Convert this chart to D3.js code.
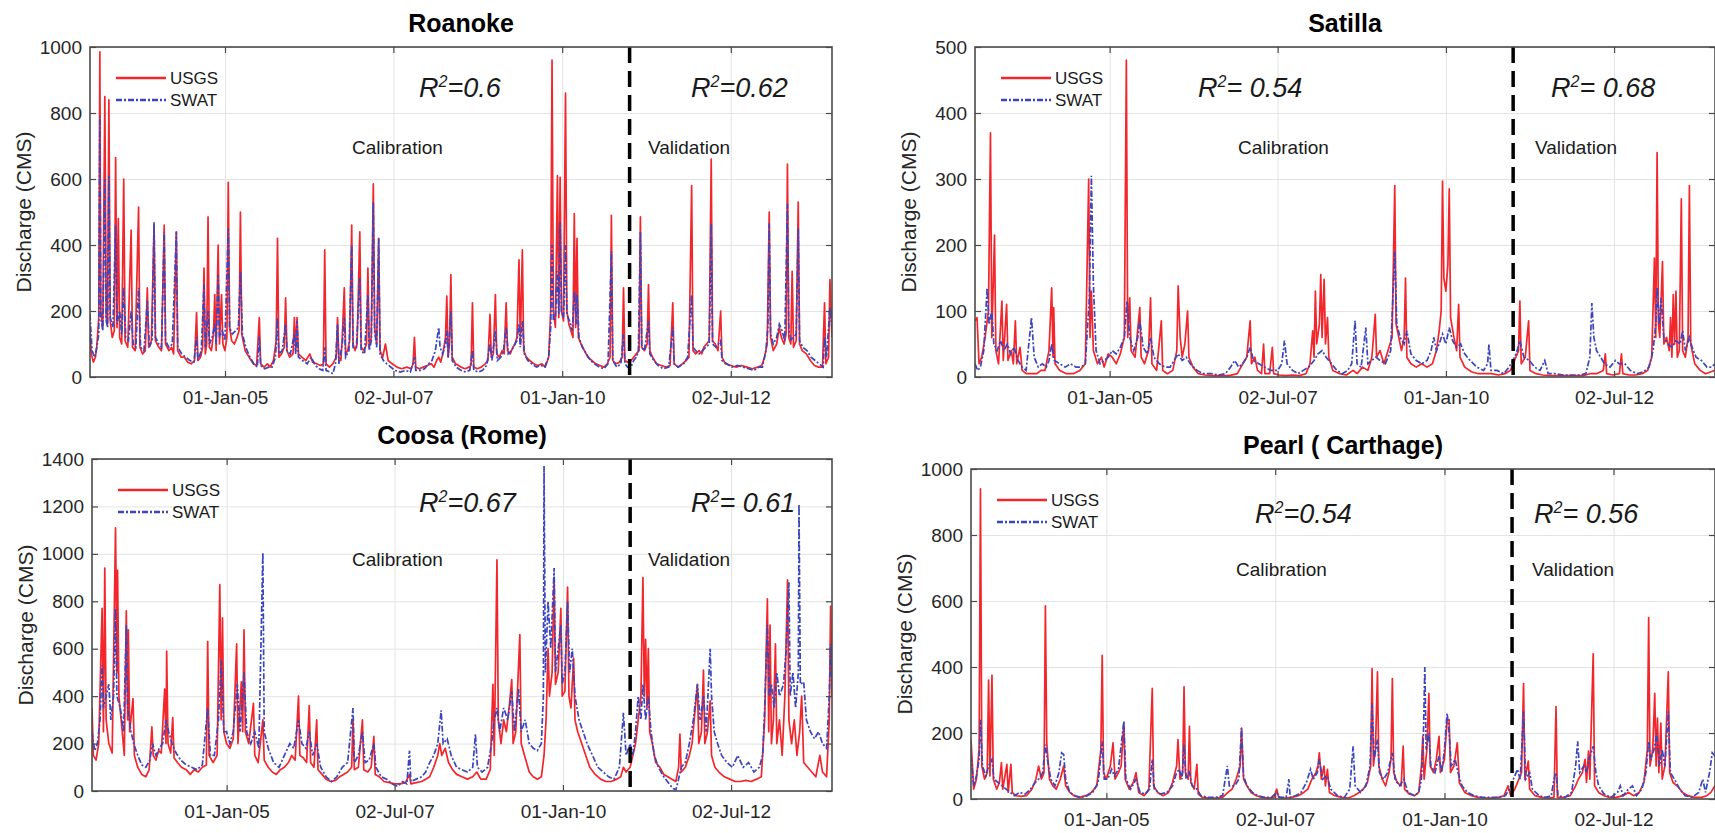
<!DOCTYPE html>
<html><head><meta charset="utf-8">
<script src="https://cdn.jsdelivr.net/npm/d3@7"></script>
<style>html,body{margin:0;padding:0;background:#fff;} svg{display:block;font-family:"Liberation Sans",Arial,Helvetica,sans-serif;}</style>
</head><body><svg id="chart" width="1715" height="833"></svg>
<script>
// ---------------- DATA (decimal year, discharge CMS) ----------------
const xTickDates = ["2005-01-01", "2007-07-02", "2010-01-01", "2012-07-02"];
const splitDate = "2011-01-01";
const seriesNames = ["USGS", "SWAT"];
const panelTitles = ["Roanoke", "Satilla", "Coosa (Rome)", "Pearl ( Carthage)"];
const roanokeTicks = [0, 200, 400, 600, 800, 1000];
const satillaTicks = [0, 100, 200, 300, 400, 500];
const coosaTicks = [0, 200, 400, 600, 800, 1000, 1200, 1400];
const pearlTicks = [0, 200, 400, 600, 800, 1000];
const r2Cal = ["=0.6", "= 0.54", "=0.67", "=0.54"];
const r2Val = ["=0.62", "= 0.68", "= 0.61", "= 0.56"];

const roanokeUSGS = [[2003.00,140],[2003.02,70],[2003.05,45],[2003.08,60],[2003.10,90],[2003.13,180],[2003.146,985],[2003.16,200],[2003.19,150],[2003.22,850],[2003.24,180],[2003.26,160],[2003.28,840],[2003.30,170],[2003.33,120],[2003.36,140],[2003.38,665],[2003.40,150],[2003.42,480],[2003.44,120],[2003.47,100],[2003.50,600],[2003.52,110],[2003.56,90],[2003.61,445],[2003.63,90],[2003.67,80],[2003.72,515],[2003.74,90],[2003.78,70],[2003.82,80],[2003.85,270],[2003.87,90],[2003.91,110],[2003.95,460],[2003.97,110],
[2004.02,90],[2004.06,80],[2004.10,460],[2004.12,100],[2004.17,80],[2004.21,90],[2004.24,70],[2004.28,440],[2004.30,80],[2004.35,60],[2004.40,60],[2004.45,45],[2004.50,40],[2004.55,50],[2004.58,195],[2004.60,50],[2004.64,60],[2004.67,90],[2004.69,330],[2004.71,70],[2004.73,100],[2004.75,485],[2004.77,90],[2004.80,80],[2004.83,130],[2004.85,250],[2004.87,80],[2004.90,400],[2004.92,100],[2004.95,250],[2004.97,100],
[2005.00,80],[2005.03,120],[2005.05,590],[2005.07,150],[2005.10,110],[2005.14,100],[2005.18,120],[2005.21,140],[2005.23,500],[2005.25,130],[2005.30,80],[2005.36,60],[2005.42,40],[2005.47,35],[2005.51,180],[2005.53,40],[2005.58,30],[2005.63,40],[2005.67,30],[2005.72,50],[2005.76,110],[2005.78,420],[2005.80,60],[2005.84,70],[2005.88,90],[2005.90,240],[2005.92,80],[2005.96,60],
[2006.01,70],[2006.03,180],[2006.05,80],[2006.07,180],[2006.09,70],[2006.14,60],[2006.20,50],[2006.26,70],[2006.30,45],[2006.36,40],[2006.42,35],[2006.46,40],[2006.48,385],[2006.50,40],[2006.55,30],[2006.60,40],[2006.65,60],[2006.67,180],[2006.69,50],[2006.72,50],[2006.74,120],[2006.77,270],[2006.79,70],[2006.82,80],[2006.85,110],[2006.88,460],[2006.90,100],[2006.93,80],[2006.96,100],
[2007.00,440],[2007.02,90],[2007.06,80],[2007.10,100],[2007.12,330],[2007.14,90],[2007.17,120],[2007.20,585],[2007.22,150],[2007.25,100],[2007.28,420],[2007.30,80],[2007.34,60],[2007.38,100],[2007.42,50],[2007.48,40],[2007.55,30],[2007.62,25],[2007.70,30],[2007.76,25],[2007.79,40],[2007.81,120],[2007.83,30],[2007.88,25],[2007.94,30],
[2008.00,35],[2008.06,40],[2008.10,30],[2008.14,50],[2008.17,60],[2008.20,45],[2008.24,80],[2008.27,120],[2008.29,245],[2008.31,60],[2008.33,100],[2008.35,310],[2008.37,60],[2008.42,40],[2008.50,30],[2008.56,25],[2008.62,30],[2008.65,35],[2008.67,225],[2008.69,30],[2008.74,25],[2008.80,30],[2008.86,40],[2008.90,50],[2008.93,190],[2008.95,60],[2008.98,70],
[2009.01,250],[2009.03,70],[2009.07,60],[2009.11,80],[2009.14,70],[2009.17,225],[2009.19,80],[2009.23,70],[2009.27,90],[2009.30,100],[2009.33,120],[2009.36,355],[2009.38,100],[2009.41,385],[2009.43,80],[2009.47,60],[2009.52,50],[2009.58,40],[2009.64,35],[2009.70,40],[2009.75,30],[2009.80,60],[2009.83,200],[2009.85,960],[2009.87,200],[2009.90,150],[2009.93,610],[2009.95,180],[2009.97,605],[2009.99,200],
[2010.02,170],[2010.05,860],[2010.07,200],[2010.10,160],[2010.13,140],[2010.16,120],[2010.18,495],[2010.20,150],[2010.22,420],[2010.24,120],[2010.28,100],[2010.33,80],[2010.38,60],[2010.44,50],[2010.50,40],[2010.56,35],[2010.62,30],[2010.67,40],[2010.71,60],[2010.73,490],[2010.75,50],[2010.80,40],[2010.85,45],[2010.89,60],[2010.91,270],[2010.93,50],[2010.97,45],
[2011.02,50],[2011.06,60],[2011.10,70],[2011.14,80],[2011.16,485],[2011.18,90],[2011.22,80],[2011.26,100],[2011.28,280],[2011.30,80],[2011.34,60],[2011.40,40],[2011.47,35],[2011.54,30],[2011.60,35],[2011.64,225],[2011.66,40],[2011.72,30],[2011.78,40],[2011.84,50],[2011.88,60],[2011.92,580],[2011.94,80],[2011.98,70],
[2012.03,80],[2012.07,70],[2012.10,90],[2012.14,100],[2012.18,110],[2012.21,660],[2012.23,110],[2012.27,100],[2012.31,80],[2012.35,200],[2012.37,60],[2012.42,40],[2012.50,35],[2012.58,30],[2012.66,35],[2012.74,30],[2012.82,25],[2012.90,30],[2012.96,35],
[2013.00,60],[2013.04,100],[2013.07,500],[2013.09,120],[2013.13,80],[2013.18,100],[2013.22,150],[2013.25,120],[2013.29,100],[2013.32,130],[2013.34,645],[2013.36,120],[2013.39,100],[2013.41,320],[2013.43,90],[2013.47,110],[2013.50,530],[2013.52,100],[2013.56,80],[2013.62,70],[2013.68,50],[2013.74,35],[2013.80,30],[2013.86,30],[2013.89,225],[2013.91,40],[2013.95,60],[2013.97,295],[2014.00,120]];

const roanokeSWAT = [[2003.00,190],[2003.03,80],[2003.07,60],[2003.10,90],[2003.13,130],[2003.146,790],[2003.16,180],[2003.19,140],[2003.22,600],[2003.24,170],[2003.26,150],[2003.28,610],[2003.30,180],[2003.34,150],[2003.38,460],[2003.40,160],[2003.44,200],[2003.47,130],[2003.50,270],[2003.53,120],[2003.57,110],[2003.61,200],[2003.64,100],[2003.68,90],[2003.72,270],[2003.75,90],[2003.80,80],[2003.85,230],[2003.88,90],[2003.92,110],[2003.95,470],[2003.97,120],
[2004.02,100],[2004.06,90],[2004.10,440],[2004.12,110],[2004.17,90],[2004.22,100],[2004.28,440],[2004.30,90],[2004.36,70],[2004.42,60],[2004.48,50],[2004.54,45],[2004.58,120],[2004.60,50],[2004.65,80],[2004.69,280],[2004.71,90],[2004.75,200],[2004.77,100],[2004.81,120],[2004.85,160],[2004.87,100],[2004.90,310],[2004.92,120],[2004.96,140],
[2005.00,110],[2005.05,450],[2005.07,150],[2005.11,130],[2005.16,140],[2005.20,150],[2005.23,320],[2005.26,130],[2005.31,90],[2005.37,60],[2005.43,40],[2005.48,30],[2005.51,120],[2005.53,35],[2005.59,25],[2005.65,30],[2005.70,30],[2005.75,60],[2005.78,180],[2005.80,70],[2005.85,80],[2005.90,160],[2005.92,80],[2005.97,70],
[2006.03,130],[2006.05,70],[2006.07,170],[2006.09,60],[2006.15,50],[2006.22,40],[2006.28,60],[2006.34,35],[2006.40,25],[2006.45,20],[2006.48,90],[2006.50,20],[2006.56,15],[2006.60,10],[2006.64,40],[2006.67,160],[2006.69,40],[2006.74,100],[2006.77,180],[2006.79,60],[2006.84,80],[2006.88,400],[2006.90,90],[2006.95,90],
[2007.00,300],[2007.02,80],[2007.07,70],[2007.12,250],[2007.14,80],[2007.17,110],[2007.20,530],[2007.22,140],[2007.25,90],[2007.28,420],[2007.30,70],[2007.35,50],[2007.40,40],[2007.46,30],[2007.52,20],[2007.60,15],[2007.68,20],[2007.75,15],[2007.81,60],[2007.83,20],[2007.90,20],[2007.96,25],
[2008.02,40],[2008.07,50],[2008.12,80],[2008.17,150],[2008.19,90],[2008.23,70],[2008.27,100],[2008.29,140],[2008.31,60],[2008.35,200],[2008.37,50],[2008.43,30],[2008.50,20],[2008.57,15],[2008.63,20],[2008.67,80],[2008.69,20],[2008.76,15],[2008.82,20],[2008.88,35],[2008.93,100],[2008.96,50],
[2009.01,140],[2009.04,50],[2009.09,60],[2009.13,80],[2009.17,150],[2009.20,70],[2009.25,80],[2009.30,100],[2009.33,110],[2009.36,160],[2009.38,90],[2009.41,170],[2009.44,70],[2009.49,50],[2009.55,40],[2009.62,30],[2009.68,35],[2009.74,30],[2009.80,60],[2009.83,150],[2009.85,400],[2009.87,170],[2009.90,180],[2009.93,320],[2009.95,190],[2009.97,470],[2009.99,200],
[2010.02,180],[2010.05,400],[2010.07,190],[2010.11,170],[2010.15,140],[2010.18,260],[2010.21,160],[2010.22,250],[2010.25,120],[2010.30,90],[2010.36,70],[2010.42,50],[2010.48,40],[2010.55,30],[2010.62,25],[2010.68,40],[2010.73,380],[2010.75,50],[2010.81,30],[2010.87,40],[2010.91,130],[2010.93,40],[2010.97,30],
[2011.02,30],[2011.06,50],[2011.10,60],[2011.13,80],[2011.16,440],[2011.18,90],[2011.22,80],[2011.28,170],[2011.30,70],[2011.36,50],[2011.42,35],[2011.50,25],[2011.58,30],[2011.64,150],[2011.66,40],[2011.72,30],[2011.80,40],[2011.86,60],[2011.92,250],[2011.94,90],[2011.98,80],
[2012.03,70],[2012.08,80],[2012.13,90],[2012.18,100],[2012.21,465],[2012.23,100],[2012.28,90],[2012.35,110],[2012.37,50],[2012.44,40],[2012.52,30],[2012.60,35],[2012.68,30],[2012.76,25],[2012.84,20],[2012.92,30],[2012.97,30],
[2013.02,80],[2013.05,150],[2013.07,465],[2013.09,130],[2013.13,100],[2013.18,120],[2013.22,160],[2013.26,140],[2013.30,110],[2013.34,525],[2013.36,140],[2013.40,110],[2013.43,120],[2013.47,130],[2013.50,450],[2013.52,110],[2013.57,90],[2013.63,80],[2013.69,60],[2013.75,50],[2013.81,40],[2013.87,30],[2013.89,120],[2013.92,60],[2013.97,210],[2014.00,150]];

const satillaUSGS = [[2003.00,85],[2003.03,90],[2003.06,20],[2003.10,30],[2003.15,60],[2003.20,100],[2003.23,370],[2003.25,60],[2003.29,215],[2003.31,40],[2003.35,20],[2003.40,115],[2003.42,25],[2003.47,110],[2003.49,25],[2003.54,40],[2003.57,20],[2003.60,85],[2003.62,20],[2003.67,45],[2003.70,10],[2003.76,5],[2003.84,5],[2003.92,5],[2003.98,10],
[2004.04,10],[2004.10,40],[2004.14,135],[2004.16,30],[2004.17,105],[2004.19,20],[2004.26,10],[2004.36,5],[2004.46,5],[2004.56,10],[2004.64,20],[2004.69,300],[2004.71,60],[2004.73,130],[2004.76,40],[2004.82,20],[2004.88,30],[2004.92,15],[2004.98,35],
[2005.04,30],[2005.10,20],[2005.16,35],[2005.22,60],[2005.25,480],[2005.27,60],[2005.30,120],[2005.32,40],[2005.38,30],[2005.45,105],[2005.47,30],[2005.52,20],[2005.58,40],[2005.61,120],[2005.63,20],[2005.70,10],[2005.77,85],[2005.79,10],[2005.86,5],[2005.94,10],
[2006.00,40],[2006.02,138],[2006.05,60],[2006.08,30],[2006.12,50],[2006.16,100],[2006.18,30],[2006.24,15],[2006.32,5],[2006.42,3],[2006.54,2],[2006.66,2],[2006.78,2],[2006.90,5],[2006.98,20],
[2007.04,30],[2007.09,85],[2007.11,20],[2007.16,30],[2007.20,10],[2007.26,5],[2007.29,50],[2007.31,5],[2007.38,5],[2007.42,45],[2007.44,5],[2007.52,3],[2007.62,2],[2007.72,3],[2007.82,2],[2007.92,5],[2007.98,20],
[2008.02,70],[2008.04,30],[2008.06,130],[2008.08,50],[2008.12,80],[2008.14,155],[2008.16,60],[2008.19,148],[2008.21,50],[2008.24,90],[2008.26,30],[2008.32,10],[2008.42,5],[2008.52,3],[2008.62,10],[2008.68,5],[2008.76,15],[2008.84,10],[2008.90,30],[2008.95,95],[2008.97,30],
[2009.02,40],[2009.08,20],[2009.14,40],[2009.20,60],[2009.24,290],[2009.26,80],[2009.30,60],[2009.34,40],[2009.38,60],[2009.40,150],[2009.42,30],[2009.48,20],[2009.56,15],[2009.64,20],[2009.72,15],[2009.80,20],[2009.86,40],[2009.90,70],[2009.93,100],[2009.95,297],[2009.97,150],[2010.00,130],[2010.03,170],[2010.05,285],[2010.07,90],
[2010.12,60],[2010.16,40],[2010.19,110],[2010.21,30],[2010.28,15],[2010.38,8],[2010.48,5],[2010.58,5],[2010.68,5],[2010.78,3],[2010.88,5],[2010.96,10],
[2011.04,30],[2011.08,40],[2011.10,115],[2011.12,20],[2011.18,30],[2011.23,85],[2011.25,10],[2011.34,5],[2011.44,3],[2011.56,2],[2011.68,2],[2011.80,2],[2011.92,2],[2012.04,2],[2012.14,5],[2012.24,5],[2012.34,10],[2012.37,35],[2012.39,5],[2012.48,3],[2012.58,5],[2012.61,35],[2012.63,5],[2012.72,3],[2012.82,3],[2012.92,5],
[2013.00,10],[2013.06,30],[2013.10,180],[2013.12,60],[2013.14,340],[2013.16,80],[2013.18,60],[2013.22,175],[2013.24,50],[2013.28,60],[2013.32,40],[2013.34,90],[2013.36,30],[2013.38,125],[2013.40,50],[2013.42,130],[2013.44,30],[2013.47,40],[2013.50,270],[2013.52,40],[2013.56,30],[2013.60,60],[2013.62,290],[2013.64,50],[2013.70,20],[2013.78,10],[2013.86,5],[2013.94,8],[2014.00,10]];

const satillaSWAT = [[2003.00,20],[2003.04,10],[2003.08,15],[2003.13,40],[2003.18,135],[2003.21,80],[2003.25,100],[2003.28,50],[2003.33,40],[2003.38,55],[2003.43,40],[2003.48,50],[2003.53,35],[2003.58,45],[2003.64,25],[2003.70,15],[2003.76,10],[2003.84,90],[2003.88,30],[2003.94,15],
[2004.00,20],[2004.06,15],[2004.10,25],[2004.14,50],[2004.18,25],[2004.26,20],[2004.34,15],[2004.42,20],[2004.50,15],[2004.58,15],[2004.64,20],[2004.70,120],[2004.73,305],[2004.76,140],[2004.80,40],[2004.86,20],[2004.92,25],[2004.98,30],
[2005.04,40],[2005.10,35],[2005.16,45],[2005.22,60],[2005.26,115],[2005.30,60],[2005.36,40],[2005.42,60],[2005.45,85],[2005.50,45],[2005.56,35],[2005.61,60],[2005.66,30],[2005.74,20],[2005.82,15],[2005.90,15],[2005.96,25],
[2006.02,35],[2006.08,25],[2006.14,30],[2006.20,20],[2006.30,10],[2006.40,5],[2006.52,5],[2006.62,3],[2006.72,5],[2006.80,15],[2006.86,25],[2006.92,15],[2006.98,20],
[2007.04,30],[2007.09,45],[2007.14,25],[2007.22,20],[2007.30,15],[2007.40,10],[2007.50,10],[2007.56,20],[2007.60,55],[2007.64,20],[2007.72,10],[2007.80,5],[2007.88,10],[2007.96,15],
[2008.04,25],[2008.10,35],[2008.16,40],[2008.22,30],[2008.30,20],[2008.38,10],[2008.46,5],[2008.54,10],[2008.60,20],[2008.65,85],[2008.68,20],[2008.74,15],[2008.81,75],[2008.84,20],[2008.90,25],[2008.96,30],
[2009.02,25],[2009.10,20],[2009.18,40],[2009.24,190],[2009.27,80],[2009.32,60],[2009.38,50],[2009.42,70],[2009.48,35],[2009.56,25],[2009.64,20],[2009.72,25],[2009.78,40],[2009.82,60],[2009.86,40],[2009.90,50],[2009.95,65],[2010.00,50],[2010.05,75],[2010.10,55],
[2010.16,45],[2010.22,50],[2010.28,35],[2010.36,25],[2010.46,15],[2010.56,10],[2010.62,20],[2010.64,50],[2010.67,10],[2010.76,10],[2010.86,5],[2010.94,15],
[2011.02,30],[2011.06,40],[2011.10,55],[2011.16,30],[2011.24,25],[2011.32,15],[2011.40,10],[2011.47,25],[2011.52,5],[2011.62,5],[2011.74,3],[2011.86,3],[2011.98,3],[2012.08,5],[2012.14,30],[2012.17,112],[2012.20,60],[2012.24,40],[2012.30,30],[2012.36,20],[2012.44,15],[2012.52,25],[2012.58,20],[2012.66,20],[2012.74,10],[2012.84,5],[2012.94,8],
[2013.02,15],[2013.08,40],[2013.12,80],[2013.14,135],[2013.17,80],[2013.20,120],[2013.24,60],[2013.30,50],[2013.36,45],[2013.42,55],[2013.48,50],[2013.52,70],[2013.56,40],[2013.62,60],[2013.66,45],[2013.72,30],[2013.80,25],[2013.88,15],[2013.95,15],[2014.00,20]];

const coosaUSGS = [[2003.00,350],[2003.02,150],[2003.06,130],[2003.10,200],[2003.15,770],[2003.17,250],[2003.19,940],[2003.21,300],[2003.25,200],[2003.30,160],[2003.35,1110],[2003.37,500],[2003.38,930],[2003.40,400],[2003.45,250],[2003.48,150],[2003.51,760],[2003.53,300],[2003.54,680],[2003.56,250],[2003.61,390],[2003.63,150],[2003.68,100],[2003.74,70],[2003.80,60],[2003.85,90],[2003.89,270],[2003.91,150],[2003.95,130],[2003.99,170],
[2004.03,160],[2004.08,430],[2004.10,200],[2004.11,590],[2004.13,200],[2004.17,160],[2004.20,310],[2004.22,140],[2004.27,120],[2004.33,100],[2004.40,90],[2004.46,70],[2004.52,90],[2004.58,80],[2004.64,100],[2004.70,110],[2004.72,630],[2004.74,150],[2004.80,120],[2004.86,150],[2004.90,870],[2004.92,300],[2004.94,730],[2004.96,250],
[2005.00,200],[2005.05,180],[2005.10,220],[2005.15,620],[2005.17,200],[2005.22,460],[2005.24,250],[2005.26,680],[2005.28,250],[2005.33,200],[2005.40,370],[2005.42,150],[2005.47,120],[2005.54,300],[2005.56,130],[2005.62,100],[2005.68,80],[2005.74,70],[2005.80,90],[2005.86,100],[2005.92,120],[2005.97,150],
[2006.02,130],[2006.07,400],[2006.09,150],[2006.14,140],[2006.19,120],[2006.23,360],[2006.25,120],[2006.30,100],[2006.34,300],[2006.36,90],[2006.42,70],[2006.48,50],[2006.55,40],[2006.62,45],[2006.68,60],[2006.74,70],[2006.80,80],[2006.86,100],[2006.88,300],[2006.90,90],[2006.96,100],
[2007.02,300],[2007.04,90],[2007.10,80],[2007.15,100],[2007.19,230],[2007.21,70],[2007.27,60],[2007.34,40],[2007.42,35],[2007.50,30],[2007.58,30],[2007.66,35],[2007.72,70],[2007.74,30],[2007.82,35],[2007.90,40],[2007.96,50],
[2008.02,60],[2008.08,100],[2008.14,150],[2008.17,200],[2008.20,150],[2008.25,180],[2008.30,120],[2008.36,90],[2008.42,70],[2008.50,60],[2008.58,50],[2008.66,60],[2008.72,80],[2008.78,50],[2008.86,50],[2008.92,90],[2008.96,450],[2008.98,150],
[2009.02,975],[2009.04,300],[2009.08,200],[2009.12,300],[2009.16,250],[2009.20,350],[2009.24,470],[2009.26,200],[2009.30,250],[2009.36,660],[2009.38,200],[2009.43,150],[2009.50,80],[2009.56,60],[2009.62,50],[2009.68,60],[2009.72,150],[2009.75,300],[2009.78,600],[2009.80,400],[2009.84,500],[2009.87,900],[2009.89,450],[2009.93,500],[2009.97,770],[2009.99,400],
[2010.03,420],[2010.07,860],[2010.09,400],[2010.12,350],[2010.16,560],[2010.18,300],[2010.22,250],[2010.28,200],[2010.34,150],[2010.40,100],[2010.48,70],[2010.56,50],[2010.64,40],[2010.72,40],[2010.80,50],[2010.86,60],[2010.90,100],[2010.94,80],
[2011.00,100],[2011.04,150],[2011.08,200],[2011.12,300],[2011.16,400],[2011.19,900],[2011.21,400],[2011.23,640],[2011.25,350],[2011.27,600],[2011.29,250],[2011.33,200],[2011.38,120],[2011.44,100],[2011.50,70],[2011.56,60],[2011.62,50],[2011.68,40],[2011.72,100],[2011.74,240],[2011.76,80],[2011.82,100],[2011.88,150],[2011.92,200],
[2012.00,450],[2012.02,200],[2012.06,250],[2012.09,510],[2012.11,200],[2012.15,250],[2012.19,380],[2012.21,150],[2012.26,100],[2012.32,80],[2012.40,60],[2012.48,50],[2012.56,40],[2012.64,40],[2012.72,45],[2012.80,40],[2012.88,50],[2012.95,60],
[2013.00,300],[2013.04,810],[2013.06,250],[2013.08,700],[2013.10,200],[2013.13,300],[2013.16,620],[2013.18,200],[2013.22,300],[2013.26,150],[2013.30,400],[2013.34,890],[2013.36,300],[2013.40,200],[2013.44,300],[2013.48,150],[2013.52,250],[2013.55,400],[2013.58,120],[2013.64,100],[2013.70,80],[2013.76,60],[2013.82,150],[2013.86,80],[2013.92,60],[2013.96,300],[2013.98,780],[2014.00,400]];

const coosaSWAT = [[2003.00,250],[2003.04,170],[2003.08,200],[2003.12,300],[2003.15,530],[2003.17,350],[2003.21,400],[2003.25,450],[2003.28,300],[2003.32,400],[2003.35,770],[2003.37,400],[2003.42,350],[2003.47,250],[2003.51,700],[2003.53,350],[2003.58,250],[2003.62,200],[2003.68,150],[2003.74,110],[2003.80,100],[2003.86,130],[2003.90,200],[2003.95,150],
[2004.00,180],[2004.05,200],[2004.10,300],[2004.14,250],[2004.19,200],[2004.25,160],[2004.32,130],[2004.40,110],[2004.48,100],[2004.56,90],[2004.64,110],[2004.72,350],[2004.76,150],[2004.82,150],[2004.88,300],[2004.92,550],[2004.96,250],
[2005.00,250],[2005.05,200],[2005.10,250],[2005.16,450],[2005.20,250],[2005.26,500],[2005.30,250],[2005.36,200],[2005.42,250],[2005.48,180],[2005.54,1005],[2005.56,250],[2005.62,180],[2005.70,120],[2005.78,100],[2005.86,150],[2005.94,200],
[2006.00,180],[2006.07,300],[2006.12,200],[2006.18,180],[2006.23,250],[2006.28,150],[2006.34,200],[2006.40,100],[2006.48,60],[2006.56,40],[2006.64,60],[2006.72,100],[2006.80,120],[2006.88,350],[2006.90,120],[2006.96,150],
[2007.02,250],[2007.06,120],[2007.12,130],[2007.19,200],[2007.22,100],[2007.30,60],[2007.38,50],[2007.46,30],[2007.54,20],[2007.62,40],[2007.68,30],[2007.72,170],[2007.74,40],[2007.82,50],[2007.90,60],[2007.96,80],
[2008.02,120],[2008.08,150],[2008.14,200],[2008.19,340],[2008.22,200],[2008.28,220],[2008.34,150],[2008.42,100],[2008.50,90],[2008.58,80],[2008.66,100],[2008.70,240],[2008.73,100],[2008.80,80],[2008.88,100],[2008.94,200],[2008.98,300],
[2009.02,350],[2009.06,250],[2009.12,350],[2009.18,300],[2009.24,420],[2009.28,250],[2009.34,430],[2009.38,250],[2009.44,300],[2009.50,200],[2009.56,180],[2009.62,170],[2009.68,200],[2009.71,400],[2009.72,1370],[2009.74,500],[2009.78,800],[2009.82,600],[2009.87,940],[2009.89,500],[2009.93,600],[2009.97,700],[2009.99,450],
[2010.03,500],[2010.07,800],[2010.10,500],[2010.14,600],[2010.18,400],[2010.24,300],[2010.30,250],[2010.36,200],[2010.44,150],[2010.52,100],[2010.60,80],[2010.68,60],[2010.76,50],[2010.84,100],[2010.90,330],[2010.94,150],
[2011.00,200],[2011.04,150],[2011.08,250],[2011.12,400],[2011.16,300],[2011.19,450],[2011.23,300],[2011.27,400],[2011.31,250],[2011.36,150],[2011.42,100],[2011.50,60],[2011.58,30],[2011.64,10],[2011.68,5],[2011.72,50],[2011.76,100],[2011.82,120],[2011.88,200],[2011.94,300],
[2012.00,450],[2012.04,300],[2012.09,400],[2012.13,250],[2012.19,600],[2012.21,400],[2012.25,250],[2012.30,200],[2012.36,150],[2012.44,120],[2012.52,100],[2012.60,150],[2012.68,100],[2012.76,120],[2012.84,80],[2012.92,100],[2012.97,150],
[2013.00,350],[2013.04,700],[2013.07,400],[2013.10,450],[2013.14,350],[2013.18,500],[2013.22,400],[2013.28,450],[2013.32,600],[2013.36,880],[2013.38,400],[2013.42,500],[2013.46,350],[2013.50,500],[2013.51,1210],[2013.53,450],[2013.58,460],[2013.62,300],[2013.68,250],[2013.74,220],[2013.80,250],[2013.86,200],[2013.92,180],[2013.96,400],[2013.98,620],[2014.00,450]];

const pearlUSGS = [[2003.00,180],[2003.04,30],[2003.08,60],[2003.12,150],[2003.14,940],[2003.16,100],[2003.20,60],[2003.24,80],[2003.26,360],[2003.28,70],[2003.31,375],[2003.33,60],[2003.38,30],[2003.42,50],[2003.45,110],[2003.47,30],[2003.53,105],[2003.55,20],[2003.59,105],[2003.61,20],[2003.66,10],[2003.74,8],[2003.82,10],[2003.90,30],[2003.96,60],
[2004.00,100],[2004.04,60],[2004.08,80],[2004.10,585],[2004.12,170],[2004.16,60],[2004.21,40],[2004.26,30],[2004.32,60],[2004.37,100],[2004.40,40],[2004.46,20],[2004.52,10],[2004.60,5],[2004.70,10],[2004.78,20],[2004.86,40],[2004.92,150],[2004.94,435],[2004.96,80],
[2005.00,60],[2005.06,100],[2005.10,170],[2005.13,60],[2005.18,80],[2005.22,100],[2005.26,230],[2005.28,60],[2005.34,30],[2005.40,50],[2005.44,80],[2005.48,20],[2005.56,10],[2005.63,30],[2005.68,335],[2005.70,40],[2005.76,20],[2005.84,10],[2005.92,20],[2005.98,50],
[2006.04,100],[2006.06,180],[2006.09,60],[2006.13,80],[2006.15,340],[2006.17,80],[2006.21,60],[2006.23,220],[2006.25,50],[2006.30,30],[2006.34,105],[2006.36,15],[2006.42,5],[2006.52,3],[2006.62,3],[2006.72,5],[2006.80,20],[2006.86,30],[2006.92,60],[2006.98,100],[2007.00,215],[2007.03,60],
[2007.08,40],[2007.14,20],[2007.22,10],[2007.30,5],[2007.40,3],[2007.48,5],[2007.52,30],[2007.55,5],[2007.64,3],[2007.74,5],[2007.84,10],[2007.92,20],[2007.98,30],
[2008.04,60],[2008.10,80],[2008.13,100],[2008.15,140],[2008.18,60],[2008.22,100],[2008.24,40],[2008.27,90],[2008.30,20],[2008.38,10],[2008.48,5],[2008.58,3],[2008.66,10],[2008.74,20],[2008.80,30],[2008.86,50],[2008.91,100],[2008.93,395],[2008.95,100],[2008.98,150],
[2009.01,385],[2009.03,100],[2009.08,60],[2009.13,40],[2009.18,80],[2009.21,120],[2009.23,365],[2009.25,80],[2009.30,50],[2009.36,40],[2009.39,160],[2009.41,30],[2009.48,15],[2009.56,10],[2009.62,20],[2009.66,100],[2009.68,190],[2009.70,60],[2009.74,150],[2009.77,320],[2009.79,100],[2009.84,80],[2009.88,120],[2009.92,190],[2009.94,80],
[2010.00,120],[2010.04,240],[2010.07,240],[2010.09,80],[2010.14,100],[2010.19,170],[2010.22,50],[2010.30,20],[2010.40,10],[2010.50,5],[2010.60,3],[2010.70,3],[2010.80,5],[2010.88,10],[2010.94,40],[2010.98,10],
[2011.04,30],[2011.10,60],[2011.14,80],[2011.17,350],[2011.19,60],[2011.24,115],[2011.26,30],[2011.34,10],[2011.44,5],[2011.54,3],[2011.62,5],[2011.65,280],[2011.67,5],[2011.76,5],[2011.86,10],[2011.94,40],[2011.98,60],
[2012.04,80],[2012.08,120],[2012.10,50],[2012.13,145],[2012.15,60],[2012.20,440],[2012.22,40],[2012.28,20],[2012.36,10],[2012.44,5],[2012.54,5],[2012.64,10],[2012.72,20],[2012.80,10],[2012.88,20],[2012.95,50],
[2013.00,150],[2013.02,550],[2013.04,100],[2013.08,150],[2013.11,320],[2013.13,100],[2013.15,245],[2013.17,80],[2013.20,230],[2013.22,60],[2013.26,100],[2013.31,385],[2013.33,80],[2013.38,50],[2013.44,40],[2013.52,20],[2013.60,10],[2013.70,5],[2013.80,5],[2013.88,10],[2013.94,20],[2014.00,40]];

const pearlSWAT = [[2003.00,130],[2003.04,40],[2003.08,70],[2003.12,120],[2003.14,240],[2003.17,100],[2003.22,70],[2003.26,100],[2003.31,120],[2003.34,60],[2003.40,50],[2003.46,40],[2003.52,30],[2003.58,20],[2003.64,10],[2003.72,20],[2003.80,15],[2003.88,30],[2003.95,50],
[2004.00,60],[2004.06,80],[2004.10,165],[2004.13,120],[2004.18,60],[2004.24,40],[2004.30,80],[2004.34,140],[2004.37,135],[2004.40,60],[2004.46,20],[2004.54,10],[2004.62,5],[2004.72,10],[2004.80,20],[2004.88,50],[2004.94,175],[2004.97,60],
[2005.02,60],[2005.08,90],[2005.12,70],[2005.18,90],[2005.26,235],[2005.29,60],[2005.36,30],[2005.44,60],[2005.50,20],[2005.58,15],[2005.64,30],[2005.68,120],[2005.71,30],[2005.80,15],[2005.90,20],[2005.98,40],
[2006.04,80],[2006.08,90],[2006.12,60],[2006.15,165],[2006.18,60],[2006.23,80],[2006.27,40],[2006.34,30],[2006.40,10],[2006.50,5],[2006.62,5],[2006.72,10],[2006.79,100],[2006.82,40],[2006.90,40],[2006.96,60],[2007.00,215],[2007.03,70],
[2007.08,40],[2007.16,20],[2007.24,10],[2007.34,5],[2007.44,5],[2007.52,20],[2007.56,5],[2007.66,5],[2007.70,60],[2007.72,5],[2007.80,10],[2007.88,20],[2007.96,50],
[2008.02,90],[2008.06,60],[2008.12,80],[2008.15,120],[2008.20,60],[2008.26,70],[2008.32,30],[2008.42,10],[2008.52,5],[2008.60,30],[2008.65,160],[2008.68,40],[2008.76,20],[2008.84,40],[2008.90,100],[2008.93,290],[2008.96,120],
[2009.01,180],[2009.04,80],[2009.10,60],[2009.16,80],[2009.23,140],[2009.27,60],[2009.34,40],[2009.40,60],[2009.46,20],[2009.56,10],[2009.62,20],[2009.66,60],[2009.69,200],[2009.71,400],[2009.73,150],[2009.77,200],[2009.80,100],[2009.86,80],[2009.92,130],[2009.96,80],
[2010.00,150],[2010.04,260],[2010.07,200],[2010.10,100],[2010.16,120],[2010.20,80],[2010.26,40],[2010.34,20],[2010.44,10],[2010.56,5],[2010.68,5],[2010.80,5],[2010.90,10],[2010.96,30],
[2011.02,60],[2011.08,90],[2011.12,60],[2011.17,265],[2011.20,60],[2011.26,80],[2011.30,30],[2011.40,10],[2011.50,5],[2011.58,10],[2011.62,60],[2011.65,80],[2011.68,10],[2011.78,5],[2011.88,20],[2011.94,100],[2011.97,175],[2012.00,80],
[2012.06,100],[2012.10,80],[2012.14,120],[2012.20,160],[2012.24,80],[2012.28,40],[2012.36,15],[2012.46,5],[2012.56,20],[2012.60,40],[2012.64,10],[2012.72,30],[2012.78,40],[2012.84,10],[2012.92,30],[2012.98,80],
[2013.02,175],[2013.05,120],[2013.10,150],[2013.14,200],[2013.18,100],[2013.22,150],[2013.26,100],[2013.31,265],[2013.34,80],[2013.40,60],[2013.48,30],[2013.56,10],[2013.66,5],[2013.76,20],[2013.82,60],[2013.86,20],[2013.92,80],[2013.96,140],[2014.00,130]];

// ---------------- LAYOUT ----------------
const panels = [
  {title: panelTitles[0], usgs: roanokeUSGS, swat: roanokeSWAT, ticks: roanokeTicks, cal: r2Cal[0], val: r2Val[0],
   box: {l: 90, r: 832, t: 47, b: 377}, r2x: [329, 601], r2y: 50, labx: [262, 558]},
  {title: panelTitles[1], usgs: satillaUSGS, swat: satillaSWAT, ticks: satillaTicks, cal: r2Cal[1], val: r2Val[1],
   box: {l: 975, r: 1715, t: 47, b: 377}, r2x: [223, 576], r2y: 50, labx: [263, 560]},
  {title: panelTitles[2], usgs: coosaUSGS, swat: coosaSWAT, ticks: coosaTicks, cal: r2Cal[2], val: r2Val[2],
   box: {l: 92, r: 832, t: 459, b: 791}, r2x: [327, 599], r2y: 53, labx: [260, 556]},
  {title: panelTitles[3], usgs: pearlUSGS, swat: pearlSWAT, ticks: pearlTicks, cal: r2Cal[3], val: r2Val[3],
   box: {l: 971, r: 1715, t: 469, b: 799}, r2x: [284, 563], r2y: 54, labx: [265, 561]}
];

const RED = "#f2262b", BLUE = "#3b45be";
const t0 = Date.UTC(2003, 0, 1);
const yearToDate = y => new Date(t0 + (y - 2003) * 365.25 * 864e5);
const parseDate = d3.utcParse("%Y-%m-%d");
const svg = d3.select("#chart");
svg.append("rect").attr("width", 1715).attr("height", 833).attr("fill", "#fff");

panels.forEach((p, i) => {
  const W = p.box.r - p.box.l, H = p.box.b - p.box.t;
  const g = svg.append("g").attr("transform", `translate(${p.box.l},${p.box.t})`);
  const x = d3.scaleUtc().domain([parseDate("2003-01-01"), parseDate("2014-01-01")]).range([0, W]);
  const y = d3.scaleLinear().domain([0, d3.max(p.ticks)]).range([H, 0]);
  const xt = xTickDates.map(parseDate);

  // grid
  const grid = g.append("g").attr("class", "grid");
  grid.append("g").call(d3.axisLeft(y).tickValues(p.ticks).tickSize(-W).tickFormat(""))
    .call(s => s.select(".domain").remove());
  grid.append("g").attr("transform", `translate(0,${H})`)
    .call(d3.axisBottom(x).tickValues(xt).tickSize(-H).tickFormat(""))
    .call(s => s.select(".domain").remove());
  grid.selectAll("line").attr("stroke", "#e3e3e3").attr("stroke-width", 1);

  // clip
  const cid = "clip" + i;
  g.append("clipPath").attr("id", cid).append("rect").attr("width", W).attr("height", H);
  const plot = g.append("g").attr("clip-path", `url(#${cid})`);
  const line = d3.line().x(d => x(yearToDate(d[0]))).y(d => y(d[1]));
  plot.append("path").datum(p.usgs).attr("d", line).attr("fill", "none")
    .attr("stroke", RED).attr("stroke-width", 1.7).attr("stroke-linejoin", "round");
  plot.append("path").datum(p.swat).attr("d", line).attr("fill", "none")
    .attr("stroke", BLUE).attr("stroke-width", 1.7).attr("stroke-dasharray", "6,2,2,2");

  // split line
  const xs = x(parseDate(splitDate));
  g.append("line").attr("x1", xs).attr("x2", xs).attr("y1", 0).attr("y2", H)
    .attr("stroke", "#000").attr("stroke-width", 3.5).attr("stroke-dasharray", "16,8");

  // axes (inward ticks on all sides)
  const axCol = "#4a4a4a";
  const ax = g.append("g").attr("class", "axes");
  ax.append("g").call(d3.axisLeft(y).tickValues(p.ticks).tickSize(-6).tickPadding(8).tickFormat(d3.format("d")));
  ax.append("g").attr("transform", `translate(${W},0)`).call(d3.axisRight(y).tickValues(p.ticks).tickSize(-6).tickFormat(""));
  ax.append("g").attr("transform", `translate(0,${H})`)
    .call(d3.axisBottom(x).tickValues(xt).tickSize(-6).tickPadding(14).tickFormat(d3.utcFormat("%d-%b-%y")));
  ax.append("g").call(d3.axisTop(x).tickValues(xt).tickSize(-6).tickFormat(""));
  ax.selectAll(".domain").remove();
  ax.selectAll("line").attr("stroke", axCol).attr("stroke-width", 1.2);
  ax.selectAll("text").attr("font-size", 19).attr("fill", "#262626")
    .attr("font-family", '"Liberation Sans", Arial, sans-serif');
  g.append("rect").attr("width", W).attr("height", H).attr("fill", "none")
    .attr("stroke", axCol).attr("stroke-width", 1.6);

  // y label
  g.append("text").attr("transform", `translate(-67,${H / 2}) rotate(-90)`)
    .attr("text-anchor", "middle").attr("dominant-baseline", "central")
    .attr("font-size", 21).attr("fill", "#262626").text("Discharge (CMS)");

  // title
  g.append("text").attr("x", W / 2).attr("y", -15).attr("text-anchor", "middle")
    .attr("font-size", 25).attr("font-weight", "bold").attr("fill", "#000").text(p.title);

  // legend
  const leg = g.append("g");
  [[seriesNames[0], RED, null, 31], [seriesNames[1], BLUE, "6,2,2,2", 53]].forEach(([nm, c, da, yy]) => {
    leg.append("line").attr("x1", 26).attr("x2", 76).attr("y1", yy).attr("y2", yy)
      .attr("stroke", c).attr("stroke-width", 2.4).attr("stroke-dasharray", da);
    leg.append("text").attr("x", 80).attr("y", yy + 6).attr("font-size", 17)
      .attr("fill", "#1a1a1a").text(nm);
  });

  // R² annotations
  [p.cal, p.val].forEach((v, k) => {
    const t = g.append("text").attr("x", p.r2x[k]).attr("y", p.r2y).attr("font-size", 27)
      .attr("font-style", "italic").attr("fill", "#1a1a1a");
    t.append("tspan").text("R");
    t.append("tspan").attr("font-size", 16).attr("dy", -10).text("2");
    t.append("tspan").attr("dy", 10).text(v);
  });
  ["Calibration", "Validation"].forEach((s, k) => {
    g.append("text").attr("x", p.labx[k]).attr("y", 107).attr("font-size", 19)
      .attr("fill", "#1a1a1a").text(s);
  });
});
</script></body></html>
